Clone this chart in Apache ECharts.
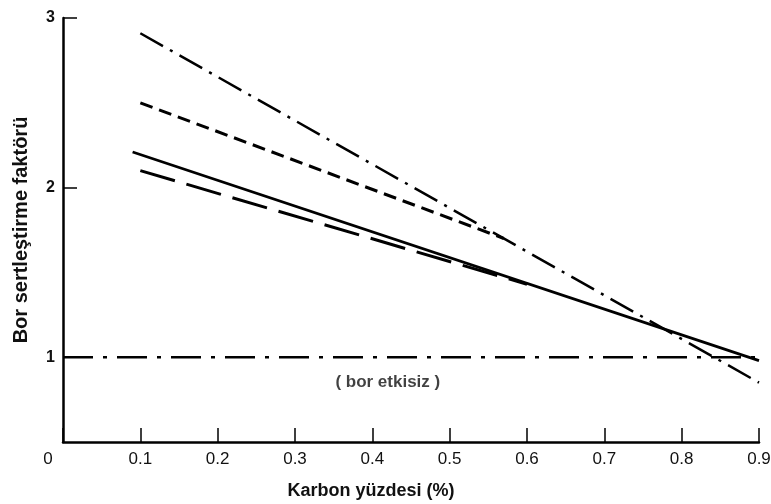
<!DOCTYPE html>
<html>
<head>
<meta charset="utf-8">
<script src="https://cdn.jsdelivr.net/npm/echarts@6/dist/echarts.min.js"></script>
<style>
html,body{margin:0;padding:0;background:#fff;}
#chart{width:771px;height:504px;}
</style>
</head>
<body>
<div id="chart"></div>
<script>
// Data
var xTicks = [0, 0.1, 0.2, 0.3, 0.4, 0.5, 0.6, 0.7, 0.8, 0.9];
var xTickLabels = ['0', '0.1', '0.2', '0.3', '0.4', '0.5', '0.6', '0.7', '0.8', '0.9'];
var yTicks = [1, 2, 3];

var steepDashDot = [[0.10, 2.91], [0.90, 0.85]];
var shortDashed  = [[0.10, 2.50], [0.57, 1.70]];
var solidLine    = [[0.09, 2.21], [0.90, 0.98]];
var longDashed   = [[0.10, 2.10], [0.60, 1.43]];
var noEffect     = [[0.00, 1.00], [0.90, 1.00]];

var noteText = '( bor etkisiz )';
var notePos = [[0.42, 0.85]];

var xName = 'Karbon yüzdesi (%)';
var yName = 'Bor sertleştirme faktörü';

var chart = echarts.init(document.getElementById('chart'));
var fontFam = '"Liberation Sans", Arial, sans-serif';

function lineSeries(data, type, width) {
  return {
    type: 'line',
    data: data,
    symbol: 'none',
    silent: true,
    lineStyle: { color: '#000', width: width, type: type, cap: 'butt' },
    z: 3
  };
}

chart.setOption({
  backgroundColor: '#ffffff',
  animation: false,
  grid: { left: 63, right: 12, top: 18, bottom: 62, containLabel: false, outerBoundsMode: 'none' },
  xAxis: {
    type: 'value',
    min: 0, max: 0.9, interval: 0.1,
    name: xName,
    nameLocation: 'middle',
    nameGap: 40,
    nameTextStyle: { fontFamily: fontFam, fontSize: 18, fontWeight: 'bold', color: '#111', padding: [0, 80, 0, 0] },
    axisLine: { show: true, lineStyle: { color: '#000', width: 2.5 } },
    axisTick: { show: true, inside: true, length: 14, lineStyle: { color: '#000', width: 1.5 } },
    splitLine: { show: false },
    axisLabel: {
      margin: 9,
      hideOverlap: false,
      fontFamily: fontFam, fontSize: 17, color: '#111',
      formatter: function (v) {
        var i = Math.round(v * 10);
        if (i === 0) return '{z|' + xTickLabels[0] + '}';
        return xTickLabels[i];
      },
      rich: { z: { fontFamily: fontFam, fontSize: 17, color: '#111', padding: [0, 30, 0, 0] } }
    }
  },
  yAxis: {
    type: 'value',
    min: 0.5, max: 3,
    name: yName,
    nameLocation: 'middle',
    nameGap: 32,
    nameRotate: 90,
    nameTextStyle: { fontFamily: fontFam, fontSize: 20, fontWeight: 'bold', color: '#111' },
    axisLine: { show: true, lineStyle: { color: '#000', width: 2.5 } },
    axisTick: { show: true, inside: true, length: 14, customValues: [2, 3], lineStyle: { color: '#000', width: 1.5 } },
    splitLine: { show: false },
    axisLabel: {
      customValues: yTicks,
      margin: 8,
      fontFamily: fontFam, fontSize: 16, fontWeight: 'bold', color: '#111'
    }
  },
  series: [
    lineSeries(steepDashDot, [26, 8, 3, 8], 2.5),
    lineSeries(shortDashed, [13, 7], 3),
    lineSeries(solidLine, 'solid', 2.8),
    lineSeries(longDashed, [36, 12], 3),
    lineSeries(noEffect, [30, 10, 4, 10], 2.5),
    {
      type: 'scatter',
      data: notePos,
      symbolSize: 0,
      silent: true,
      label: {
        show: true,
        position: 'inside',
        formatter: function () { return noteText; },
        fontFamily: fontFam, fontSize: 17, fontWeight: 'bold', color: '#111'
      }
    }
  ]
});
</script>
</body>
</html>
